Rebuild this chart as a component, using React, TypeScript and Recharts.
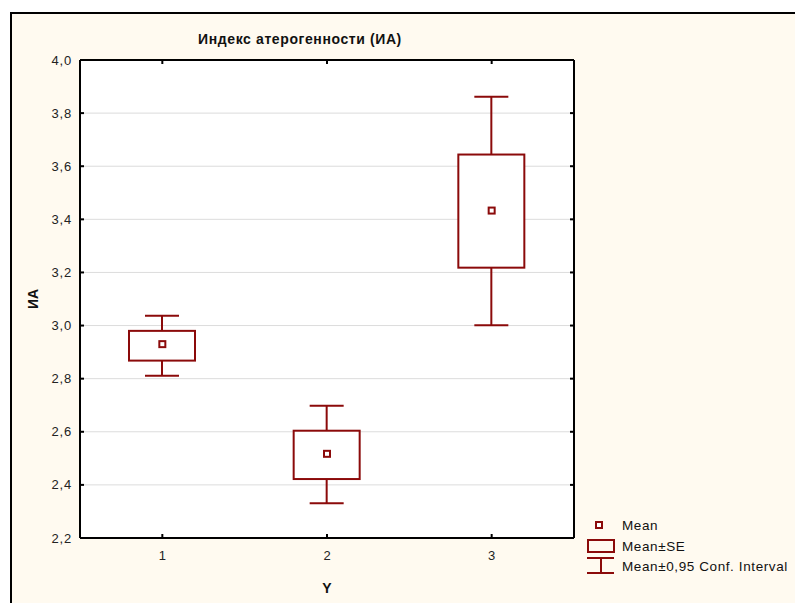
import React from 'react';
import {
  ComposedChart,
  Bar,
  Scatter,
  XAxis,
  YAxis,
  CartesianGrid,
  Legend,
} from 'recharts';

const categories = ['1', '2', '3'];
const means = [2.93, 2.517, 3.433];
const seLow = [2.868, 2.422, 3.218];
const seHigh = [2.98, 2.604, 3.644];
const ciLow = [2.811, 2.331, 3.001];
const ciHigh = [3.037, 2.698, 3.862];
const yTicks = [2.2, 2.4, 2.6, 2.8, 3.0, 3.2, 3.4, 3.6, 3.8, 4.0];

const RED = '#8b0a0a';
const FONT = '"Liberation Sans", Arial, sans-serif';

// stacked pieces: invisible base, lower whisker, SE box, upper whisker
const rows = categories.map((cat, i) => ({
  cat,
  mean: means[i],
  base: ciLow[i],
  lowWhisker: seLow[i] - ciLow[i],
  box: seHigh[i] - seLow[i],
  highWhisker: ciHigh[i] - seHigh[i],
}));

const fmt = (v: number) => v.toFixed(1).replace('.', ',');

// eslint-disable-next-line @typescript-eslint/no-explicit-any
const LowWhisker = (p: any) => {
  const cx = p.x + p.width / 2;
  const bottom = p.y + p.height;
  return (
    <g>
      <line x1={cx} x2={cx} y1={p.y} y2={bottom} stroke={RED} strokeWidth={2} />
      <line x1={cx - 17} x2={cx + 17} y1={bottom} y2={bottom} stroke={RED} strokeWidth={2} />
    </g>
  );
};

// eslint-disable-next-line @typescript-eslint/no-explicit-any
const HighWhisker = (p: any) => {
  const cx = p.x + p.width / 2;
  return (
    <g>
      <line x1={cx} x2={cx} y1={p.y} y2={p.y + p.height} stroke={RED} strokeWidth={2} />
      <line x1={cx - 17} x2={cx + 17} y1={p.y} y2={p.y} stroke={RED} strokeWidth={2} />
    </g>
  );
};

// eslint-disable-next-line @typescript-eslint/no-explicit-any
const SeBox = (p: any) => (
  <rect x={p.x} y={p.y} width={p.width} height={p.height} fill="#fff" stroke={RED} strokeWidth={2} />
);

// eslint-disable-next-line @typescript-eslint/no-explicit-any
const MeanMark = (p: any) => (
  <rect x={p.cx - 3} y={p.cy - 3} width={6} height={6} fill="#fff" stroke={RED} strokeWidth={2} />
);

// eslint-disable-next-line @typescript-eslint/no-explicit-any
const LeftTick = (p: any) => (
  <g>
    <line x1={p.x + 8} x2={p.x + 12} y1={p.y} y2={p.y} stroke="#000" strokeWidth={2} />
    <text x={p.x} y={p.y} dy={4.5} textAnchor="end" fontSize={13} letterSpacing={0.8} fontFamily={FONT} fill="#222">
      {fmt(p.payload.value)}
    </text>
  </g>
);

// eslint-disable-next-line @typescript-eslint/no-explicit-any
const BottomTick = (p: any) => (
  <g>
    <line x1={p.x} x2={p.x} y1={p.y - 10} y2={p.y - 14} stroke="#000" strokeWidth={2} />
    <text x={p.x} y={p.y} dy={12} textAnchor="middle" fontSize={13} fontFamily={FONT} fill="#222">
      {p.payload.value}
    </text>
  </g>
);

// eslint-disable-next-line @typescript-eslint/no-explicit-any
const TopTick = (p: any) => (
  <line x1={p.x} x2={p.x} y1={60} y2={64} stroke="#000" strokeWidth={2} />
);

// eslint-disable-next-line @typescript-eslint/no-explicit-any
const RightTick = (p: any) => (
  <line x1={574} x2={570} y1={p.y} y2={p.y} stroke="#000" strokeWidth={2} />
);

const LegendBox = () => (
  <svg width={210} height={66} style={{ display: 'block' }}>
    <rect x={11} y={7} width={6} height={6} fill="#fff" stroke={RED} strokeWidth={2} />
    <text x={37} y={10} dy={5} fontSize={13.5} letterSpacing={0.6} fontFamily={FONT} fill="#111">Mean</text>
    <rect x={3} y={25} width={26} height={12} fill="none" stroke={RED} strokeWidth={2} />
    <text x={37} y={31} dy={5} fontSize={13.5} letterSpacing={0.6} fontFamily={FONT} fill="#111">Mean±SE</text>
    <line x1={2} x2={29} y1={43} y2={43} stroke={RED} strokeWidth={2} />
    <line x1={2} x2={29} y1={58} y2={58} stroke={RED} strokeWidth={2} />
    <line x1={16} x2={16} y1={43} y2={58} stroke={RED} strokeWidth={2} />
    <text x={37} y={51} dy={5} fontSize={13.5} letterSpacing={0.6} fontFamily={FONT} fill="#111">Mean±0,95 Conf. Interval</text>
  </svg>
);

export default function App() {
  return (
    <div style={{ position: 'absolute', left: 0, top: 0, width: 795, height: 603, background: '#fff', overflow: 'hidden' }}>
      <div
        style={{
          position: 'absolute',
          left: 10,
          top: 12,
          width: 800,
          height: 600,
          background: '#fffaf0',
          borderTop: '2px solid #000',
          borderLeft: '2px solid #000',
        }}
      />
      <div
        style={{
          position: 'absolute',
          left: 0,
          top: 31,
          width: 600,
          textAlign: 'center',
          fontFamily: FONT,
          fontWeight: 'bold',
          fontSize: 14,
          letterSpacing: 0.6,
          color: '#111',
        }}
      >
        Индекс атерогенности (ИА)
      </div>
      <div style={{ position: 'absolute', left: 0, top: 0 }}>
        <ComposedChart width={795} height={603} data={rows} margin={{ top: 59, right: 220, bottom: 35, left: 20 }}>
          <CartesianGrid horizontal vertical={false} stroke="#dcdcdc" fill="#ffffff" />
          <XAxis
            dataKey="cat"
            height={30}
            axisLine={{ stroke: '#000', strokeWidth: 2 }}
            tickLine={false}
            tickSize={0}
            tickMargin={10}
            tick={<BottomTick />}
            label={{
              // eslint-disable-next-line @typescript-eslint/no-explicit-any
              content: (props: any) => (
                <text
                  x={props.viewBox.x + props.viewBox.width / 2}
                  y={props.viewBox.y + 55}
                  textAnchor="middle"
                  fontSize={14}
                  fontWeight="bold"
                  fontFamily={FONT}
                  fill="#111"
                >
                  Y
                </text>
              ),
            }}
          />
          <XAxis
            xAxisId="top"
            dataKey="cat"
            orientation="top"
            height={1}
            axisLine={{ stroke: '#000', strokeWidth: 2 }}
            tickLine={false}
            tickSize={0}
            tickMargin={0}
            tick={<TopTick />}
          />
          <YAxis
            type="number"
            domain={[2.2, 4.0]}
            ticks={yTicks}
            allowDataOverflow
            width={60}
            axisLine={{ stroke: '#000', strokeWidth: 2 }}
            tickLine={false}
            tickSize={0}
            tickMargin={8}
            tick={<LeftTick />}
            label={{
              // eslint-disable-next-line @typescript-eslint/no-explicit-any
              content: (props: any) => {
                const x = props.viewBox.x + 13;
                const y = props.viewBox.y + props.viewBox.height / 2;
                return (
                  <text
                    x={x}
                    y={y}
                    transform={`rotate(-90, ${x}, ${y})`}
                    textAnchor="middle"
                    dominantBaseline="central"
                    fontSize={14}
                    fontWeight="bold"
                    fontFamily={FONT}
                    fill="#111"
                  >
                    ИА
                  </text>
                );
              },
            }}
          />
          <YAxis
            yAxisId="right"
            orientation="right"
            type="number"
            domain={[2.2, 4.0]}
            ticks={yTicks}
            allowDataOverflow
            width={1}
            axisLine={{ stroke: '#000', strokeWidth: 2 }}
            tickLine={false}
            tickSize={0}
            tickMargin={0}
            tick={<RightTick />}
          />
          <Bar dataKey="base" stackId="ci" barSize={66} shape={() => <g />} isAnimationActive={false} />
          <Bar dataKey="lowWhisker" stackId="ci" barSize={66} shape={<LowWhisker />} isAnimationActive={false} />
          <Bar dataKey="box" stackId="ci" barSize={66} shape={<SeBox />} isAnimationActive={false} />
          <Bar dataKey="highWhisker" stackId="ci" barSize={66} shape={<HighWhisker />} isAnimationActive={false} />
          <Scatter dataKey="mean" shape={<MeanMark />} isAnimationActive={false} />
          <Legend
            layout="vertical"
            align="center"
            verticalAlign="middle"
            content={<LegendBox />}
            wrapperStyle={{ position: 'absolute', left: 585, top: 515, width: 210, height: 66 }}
          />
        </ComposedChart>
      </div>
    </div>
  );
}
